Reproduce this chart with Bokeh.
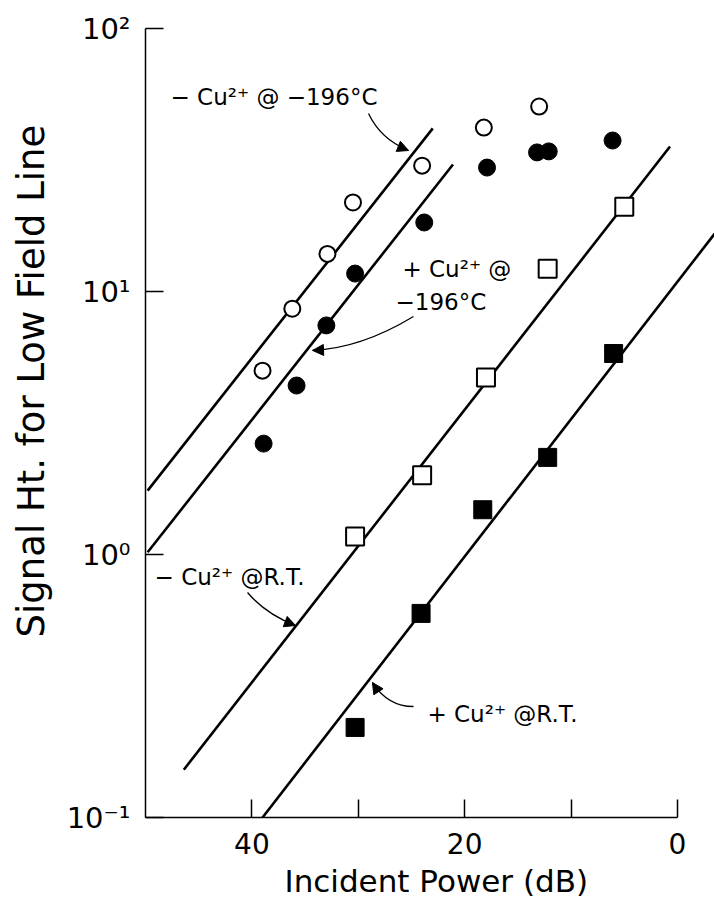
import math
from bokeh.plotting import figure
from bokeh.models import Range1d, FixedTicker, Label, Arrow, NormalHead, Title
from bokeh.embed import file_html
from bokeh.resources import INLINE

# ---- data ----
# open circles: - Cu2+ @ -196 C
oc_x = [39.0, 36.2, 32.9, 30.5, 24.0, 18.2, 13.0]
oc_y = [5.0, 8.6, 13.9, 21.8, 30.1, 42.0, 50.5]
# filled circles: + Cu2+ @ -196 C
fc_x = [38.9, 35.8, 33.0, 30.3, 23.8, 17.9, 13.2, 12.1, 6.1]
fc_y = [2.64, 4.39, 7.43, 11.7, 18.3, 29.6, 33.8, 34.1, 37.5]
# open squares: - Cu2+ @ R.T.
os_x = [30.3, 24.0, 18.0, 12.2, 5.0]
os_y = [1.17, 2.0, 4.71, 12.2, 21.0]
# filled squares: + Cu2+ @ R.T.
fs_x = [30.3, 24.1, 18.3, 12.2, 6.0]
fs_y = [0.220, 0.597, 1.48, 2.34, 5.81]

# fitted lines (end points)
line1_x = [49.8, 23.0]
line1_y = [1.75, 41.7]
line2_x = [49.8, 21.1]
line2_y = [1.02, 30.4]
line3_x = [46.4, 0.7]
line3_y = [0.152, 35.6]
line4_x = [39.0, -3.5]
line4_y = [0.1, 16.6]

x_ticks = [0, 10, 20, 30, 40]
x_tick_labels = {0: "0", 10: "", 20: "20", 30: "", 40: "40"}
y_ticks = [0.1, 1, 10, 100]
y_tick_labels = {0.1: "10\u207b\u00b9", 1: "10\u2070", 10: "10\u00b9", 100: "10\u00b2"}

x_title = "Incident Power (dB)"
y_title = "Signal Ht. for  Low Field Line"

FONT = "DejaVu Sans"

p = figure(width=714, height=905, x_range=Range1d(50, -3.48), y_range=Range1d(0.1, 100),
           y_axis_type="log", output_backend="svg", toolbar_location=None,
           min_border_left=145, min_border_right=0, min_border_top=28, min_border_bottom=88)
p.outline_line_color = None
p.xgrid.visible = False
p.ygrid.visible = False
p.background_fill_color = "white"
p.border_fill_color = "white"

for ax in (p.xaxis[0], p.yaxis[0]):
    ax.axis_line_color = "black"
    ax.axis_line_width = 1.5
    ax.major_tick_line_color = "black"
    ax.major_tick_line_width = 1.5
    ax.major_tick_in = 18
    ax.major_tick_out = 0
    ax.minor_tick_in = 0
    ax.minor_tick_out = 0
    ax.minor_tick_line_color = None
    ax.major_label_text_font = FONT
    ax.major_label_text_color = "black"

p.xaxis.ticker = FixedTicker(ticks=x_ticks)
p.xaxis.major_label_overrides = x_tick_labels
p.xaxis.major_label_text_font_size = "28px"
p.xaxis.major_label_standoff = 15
p.xaxis.bounds = (0, 50)

p.yaxis.ticker = FixedTicker(ticks=y_ticks)
p.yaxis.major_label_overrides = y_tick_labels
p.yaxis.major_label_text_font_size = "29px"
p.yaxis.major_label_standoff = 15
p.yaxis.bounds = (0.1, 100)

p.add_layout(Title(text=x_title, text_font=FONT, text_font_size="31px", text_font_style="normal",
                   text_color="black", align="left", offset=139, standoff=9,
                   vertical_align="bottom"), "below")
p.add_layout(Title(text=y_title, text_font=FONT, text_font_size="37px", text_font_style="normal",
                   text_color="black", align="left", offset=180, standoff=17,
                   vertical_align="top"), "left")

# fitted lines
for lx, ly in ((line1_x, line1_y), (line2_x, line2_y), (line3_x, line3_y), (line4_x, line4_y)):
    p.line(lx, ly, line_color="black", line_width=2.6)

# points
p.scatter(oc_x, oc_y, marker="circle", size=16, fill_color="white", line_color="black", line_width=2)
p.scatter(fc_x, fc_y, marker="circle", size=17, fill_color="black", line_color="black", line_width=1)
p.scatter(os_x, os_y, marker="square", size=18, fill_color="white", line_color="black", line_width=2)
p.scatter(fs_x, fs_y, marker="square", size=18, fill_color="black", line_color="black", line_width=1)

# curved pointer arrows: (start, control, tip)
arrows = [
    ((29.04, 47.52), (27.91, 38.00), (25.28, 34.37)),
    ((24.81, 8.03), (29.79, 6.07), (34.30, 5.97)),
    ((40.41, 0.717), (38.72, 0.594), (35.90, 0.537)),
    ((24.81, 0.2643), (27.21, 0.2643), (28.67, 0.326)),
]
for (sx, sy), (cx, cy), (ex, ey) in arrows:
    p.quadratic(x0=[sx], y0=[sy], x1=[ex], y1=[ey], cx=[cx], cy=[cy],
                line_color="black", line_width=1.3)
    p.add_layout(Arrow(end=NormalHead(size=11, fill_color="black", line_color="black", line_width=1),
                       x_start=cx, y_start=cy, x_end=ex, y_end=ey, line_alpha=0))

def lab(x, y, text, size="23px", align="left"):
    p.add_layout(Label(x=x, y=y, text=text, text_font=FONT, text_font_size=size,
                       text_color="black", text_align=align, text_baseline="alphabetic"))

lab(47.65, 55.1, "\u2212 Cu\u00b2\u207a @ \u2212196\u00b0C")
lab(25.85, 12.13, "+ Cu\u00b2\u207a @")
lab(26.50, 9.16, "\u2212196\u00b0C")
lab(49.15, 0.818, "\u2212 Cu\u00b2\u207a @R.T.")
lab(23.50, 0.2485, "+ Cu\u00b2\u207a @R.T.")

open("out.html", "w").write(file_html(p, INLINE))
